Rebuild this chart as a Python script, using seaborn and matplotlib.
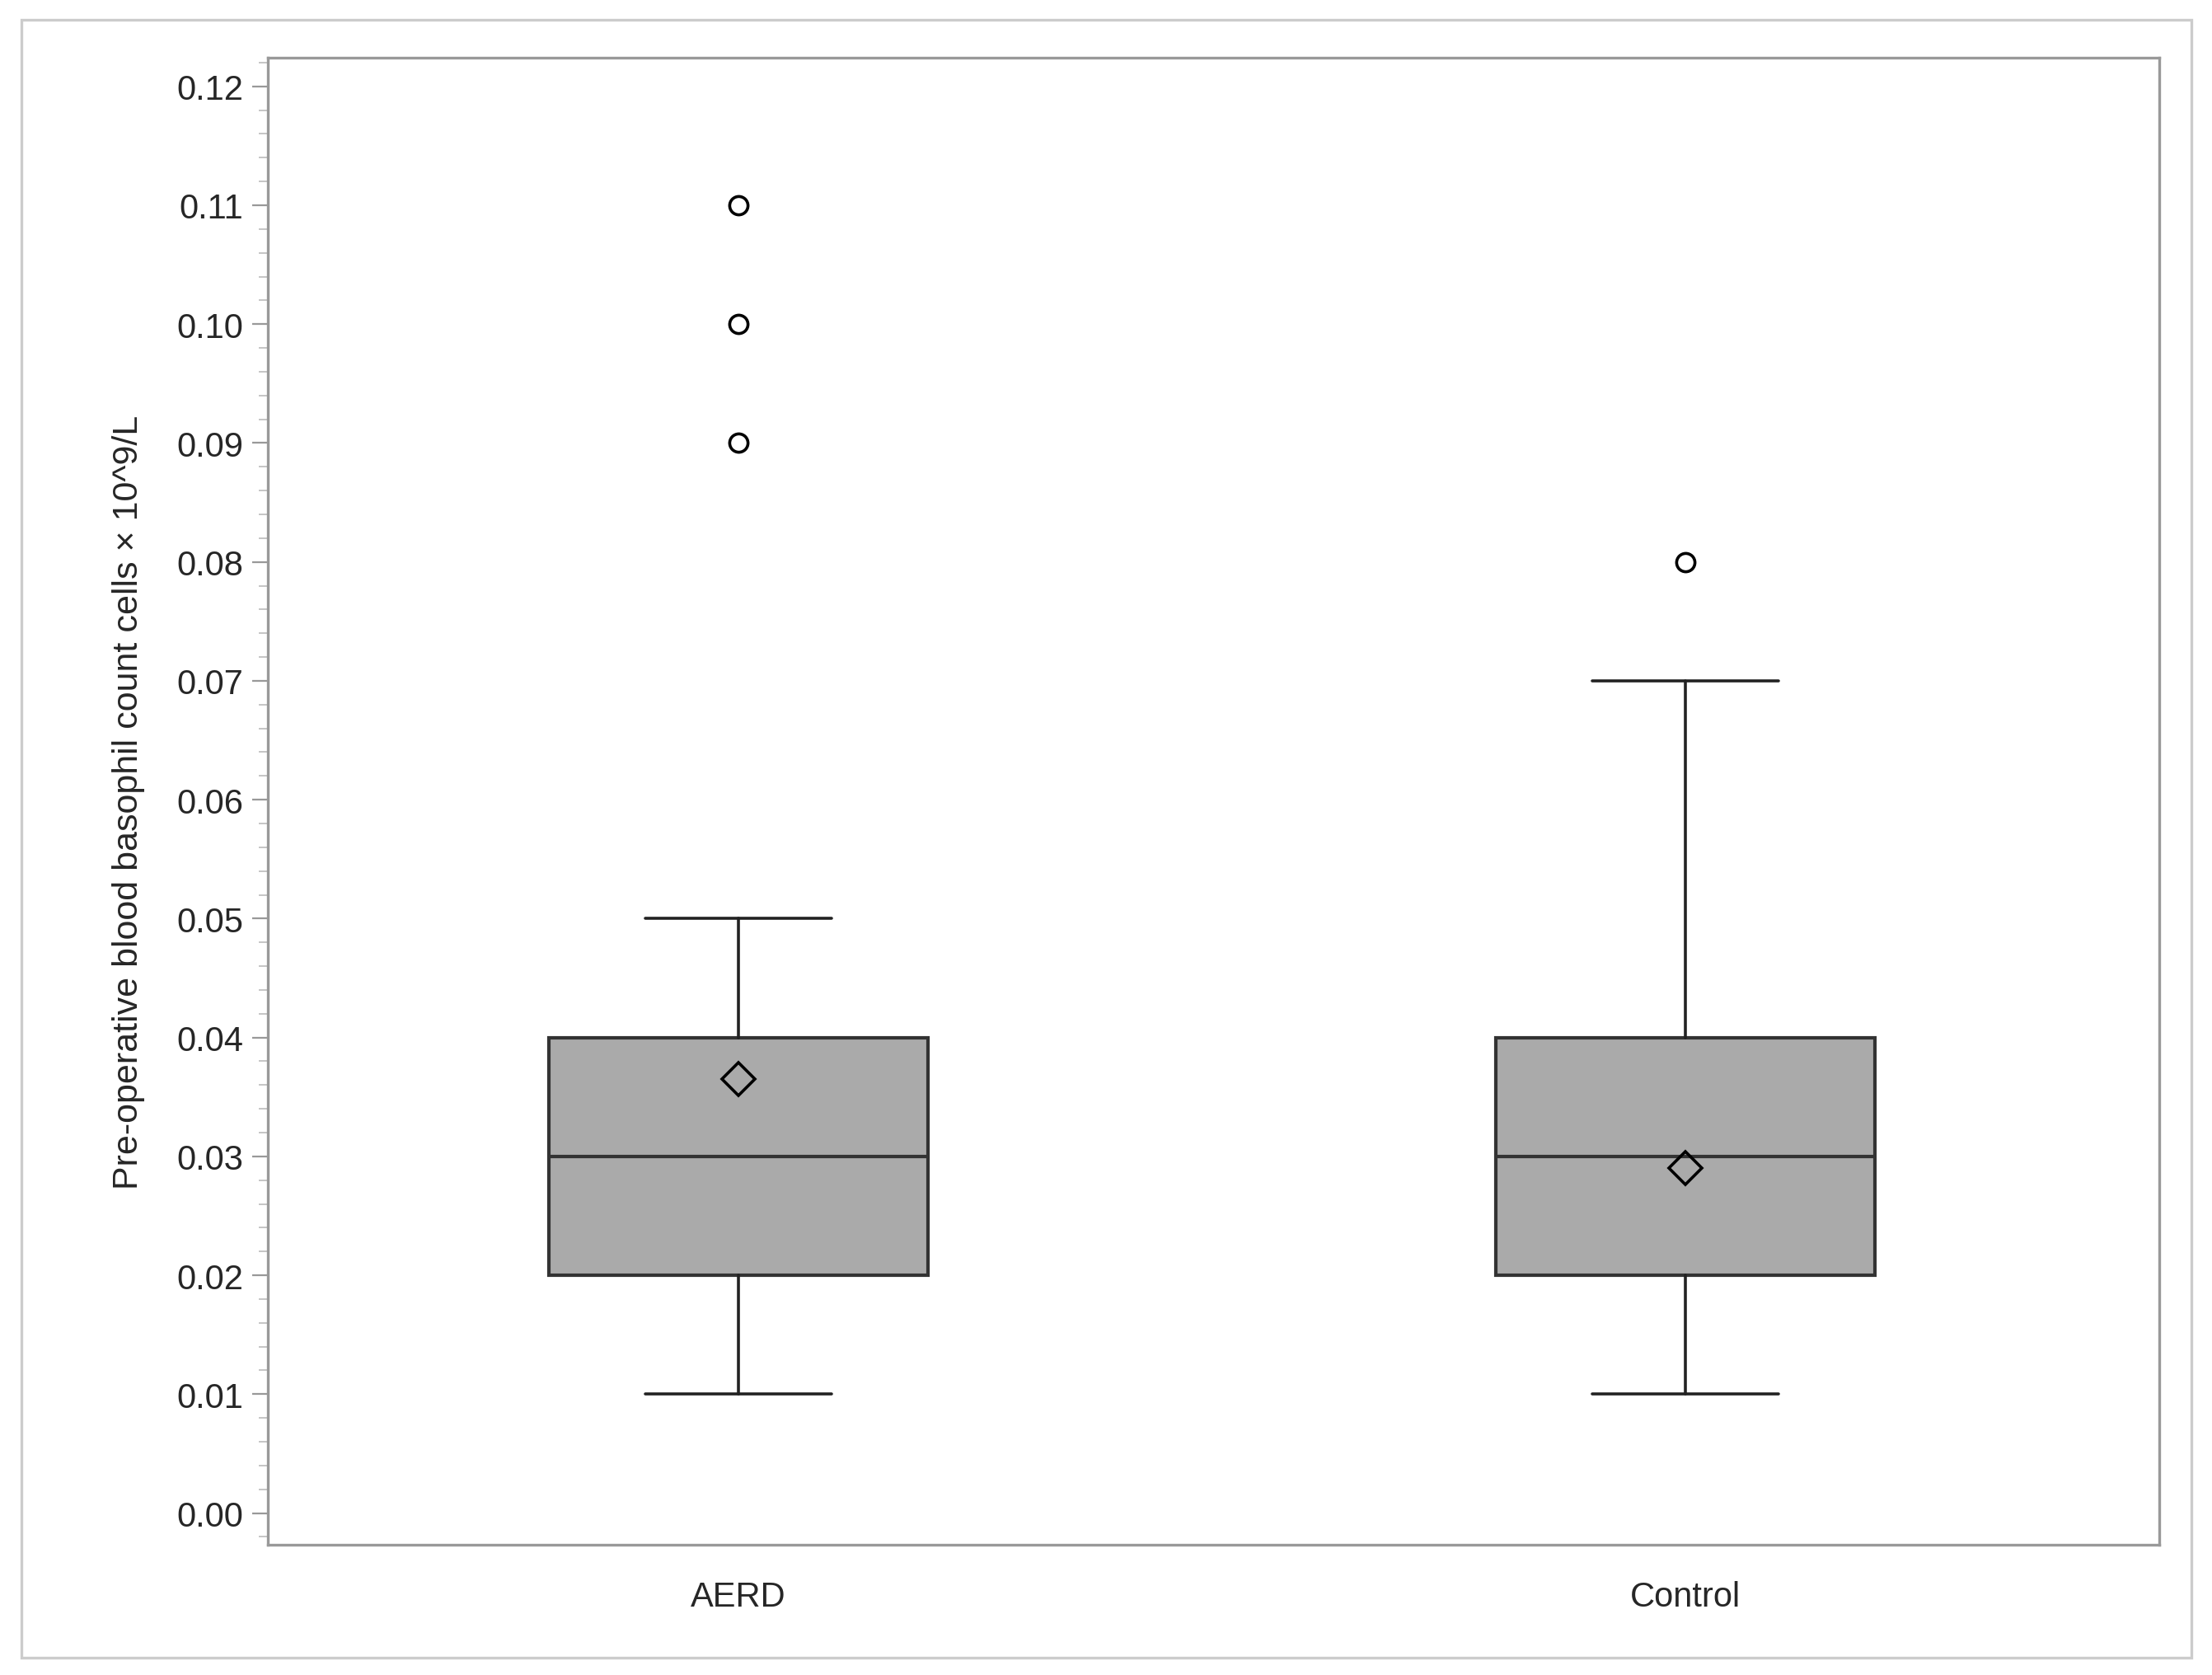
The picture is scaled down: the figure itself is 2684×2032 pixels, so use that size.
import matplotlib
matplotlib.use("Agg")
import matplotlib.pyplot as plt
import seaborn as sns
from matplotlib.ticker import MultipleLocator
from matplotlib.patches import Rectangle

sns.set_style("white")
plt.rcParams["font.family"] = ["Liberation Sans", "DejaVu Sans"]

# Summary values
groups = ["AERD", "Control"]
whisker_low = [0.01, 0.01]
q1 = [0.02, 0.02]
median = [0.03, 0.03]
q3 = [0.04, 0.04]
whisker_high = [0.05, 0.07]
means = [0.0365, 0.029]
outliers = [[0.09, 0.10, 0.11], [0.08]]

stats = []
for i, g in enumerate(groups):
    stats.append(dict(label=g, whislo=whisker_low[i], q1=q1[i], med=median[i],
                      q3=q3[i], whishi=whisker_high[i], mean=means[i],
                      fliers=outliers[i]))

fig = plt.figure(figsize=(13.42, 10.165), dpi=200)
fig.patches.append(Rectangle((0.0096, 0.0105), 0.981, 0.977, transform=fig.transFigure,
                             fill=False, edgecolor="#cccccc", linewidth=1.2))
ax = fig.add_axes([0.121, 0.0775, 0.855, 0.8875])

ax.bxp(stats, positions=[1, 2], widths=0.4, patch_artist=True, showmeans=True,
       capwidths=0.197,
       boxprops=dict(facecolor="#aaaaaa", edgecolor="#333333", linewidth=1.5),
       medianprops=dict(color="#333333", linewidth=1.5),
       whiskerprops=dict(color="#222222", linewidth=1.3),
       capprops=dict(color="#222222", linewidth=1.3),
       meanprops=dict(marker="D", markerfacecolor="none", markeredgecolor="black",
                      markersize=10, markeredgewidth=1.3),
       flierprops=dict(marker="o", markerfacecolor="none", markeredgecolor="black",
                       markersize=8, markeredgewidth=1.3))

ax.set_xlim(0.503, 2.5)
ax.set_ylim(-0.0027, 0.1224)
ax.yaxis.set_major_locator(MultipleLocator(0.01))
ax.yaxis.set_minor_locator(MultipleLocator(0.002))
ax.yaxis.set_major_formatter(matplotlib.ticker.FormatStrFormatter("%.2f"))
ax.tick_params(axis="y", which="major", left=True, length=7, color="#999999", labelsize=15)
ax.tick_params(axis="y", which="minor", left=True, length=4, color="#bbbbbb")
ax.tick_params(axis="x", bottom=False, labelsize=15, pad=12)
ax.set_xticks([1, 2])
ax.set_xticklabels(groups)
ax.set_ylabel("Pre-operative blood basophil count cells \u00d7 10^9/L", fontsize=15.5,
              labelpad=14)
for s in ax.spines.values():
    s.set_color("#999999")
    s.set_linewidth(1.2)

fig.savefig("out.png", dpi=200)
